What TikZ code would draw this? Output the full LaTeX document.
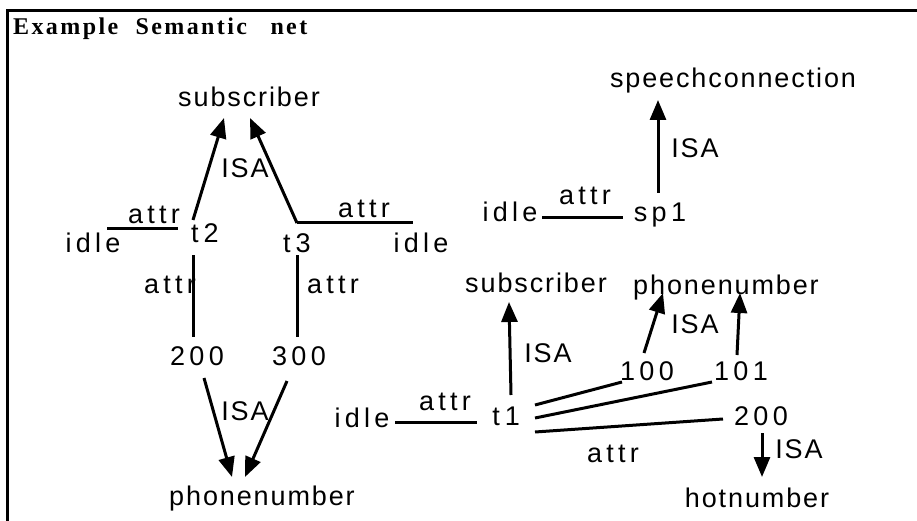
\documentclass[tikz,border=0pt]{standalone}
\usepackage{fontspec}
\setmainfont{Liberation Sans}
\newfontfamily\labfont[LetterSpace=7]{Liberation Sans}
\newfontfamily\labwide[LetterSpace=16]{Liberation Sans}
\newfontfamily\titlefont[LetterSpace=10]{Liberation Serif}
\usetikzlibrary{arrows.meta}
\begin{document}
\begin{tikzpicture}[x=1pt,y=-1pt,
  lab/.style={anchor=base,inner sep=0pt,font=\labfont\fontsize{27}{32}\selectfont},
  labw/.style={anchor=base,inner sep=0pt,font=\labwide\fontsize{27}{32}\selectfont},
  conn/.style={line width=3pt},
  isa/.style={line width=3pt,-{Triangle[length=20pt,width=16pt]}},
  frame/.style={line width=3pt}
]
\useasboundingbox (0,0) rectangle (917,521);
\fill[white] (0,0) rectangle (917,521);
\draw[frame] (7.5,521) -- (7.5,10.5) -- (917,10.5);

\node[font=\titlefont\bfseries\fontsize{24}{28}\selectfont, anchor=base west, inner sep=0pt] (title) at (13,35) {Example\hspace{9pt} Semantic\hspace{15pt} net};

% left group
\node[lab]  (subA)  at (249,107) {subscriber};
\node[lab]  (isaA)  at (245,178) {ISA};
\node[labw] (t2)    at (205,242) {t\kern5pt 2};
\node[labw] (t3)    at (297,252) {t\kern5pt 3};
\node[labw] (idleA) at (93,252)  {idle};
\node[labw] (attrA) at (154,223) {attr};
\node[labw] (attrB) at (364,218) {attr};
\node[labw] (idleB) at (421,252) {idle};
\node[labw] (attrC) at (170,293) {attr};
\node[labw] (attrD) at (333,293) {attr};
\node[labw] (n200a) at (197,365) {200};
\node[labw] (n300)  at (299,365) {300};
\node[lab]  (isaB)  at (245,420) {ISA};
\node[lab]  (phoneA) at (262,505) {phonenumber};

% right group
\node[lab]  (speech) at (733,88) {speechconnection};
\node[lab]  (isaF)  at (695,158) {ISA};
\node[labw] (sp1)   at (660,222) {sp1};
\node[labw] (idleD) at (510,222) {idle};
\node[labw] (attrG) at (585,205) {attr};

\node[lab]  (subB)  at (536,292) {subscriber};
\node[lab]  (phoneB) at (726,294) {phonenumber};
\node[lab]  (isaC)  at (548,362) {ISA};
\node[lab]  (isaD)  at (695,333) {ISA};
\node[labw] (n100)  at (647,380) {100};
\node[labw] (n101)  at (741,380) {101};
\node[labw] (idleC) at (362,427) {idle};
\node[labw] (attrE) at (445,410) {attr};
\node[labw] (t1)    at (506,425) {t\kern5pt 1};
\node[labw] (n200b) at (761,425) {200};
\node[labw] (attrF) at (613,462) {attr};
\node[lab]  (isaE)  at (799,458) {ISA};
\node[lab]  (hot)   at (757,507) {hotnumber};

% connectors left
\draw[conn] ([shift={(14,-23)}]idleA.base) -- ([shift={(-27,-13)}]t2.base);
\draw[isa]  ([shift={(-12,-22)}]t2.base) -- ([shift={(-25,11)}]subA.base);
\draw[isa]  ([shift={(0,-29)}]t3.base) -- ([shift={(1,11)}]subA.base);
\draw[conn] ([shift={(0,-29)}]t3.base) -- ([shift={(-8,-29)}]idleB.base);
\draw[conn] ([shift={(-12,13)}]t2.base) -- ([shift={(-4,-28)}]n200a.base);
\draw[conn] ([shift={(0,3)}]t3.base) -- ([shift={(-2,-28)}]n300.base);
\draw[isa]  ([shift={(7,13)}]n200a.base) -- ([shift={(-30,-28)}]phoneA.base);
\draw[isa]  ([shift={(-12,16)}]n300.base) -- ([shift={(-17,-28)}]phoneA.base);

% connectors right
\draw[isa]  ([shift={(-2,-29)}]sp1.base) -- ([shift={(-75,12)}]speech.base);
\draw[conn] ([shift={(32,-4)}]idleD.base) -- ([shift={(-37,-4)}]sp1.base);
\draw[conn] ([shift={(33,-5)}]idleC.base) -- ([shift={(-29,-3)}]t1.base);
\draw[isa]  ([shift={(5,-30)}]t1.base) -- ([shift={(-27,10)}]subB.base);
\draw[conn] ([shift={(29,-20)}]t1.base) -- ([shift={(-25,2)}]n100.base);
\draw[conn] ([shift={(29,-7)}]t1.base) -- ([shift={(-29,2)}]n101.base);
\draw[conn] ([shift={(29,7)}]t1.base) -- ([shift={(-38,-6)}]n200b.base);
\draw[isa]  ([shift={(-3,-27)}]n100.base) -- ([shift={(-63,-1)}]phoneB.base);
\draw[isa]  ([shift={(-4,-25)}]n101.base) -- ([shift={(14,-1)}]phoneB.base);
\draw[isa]  ([shift={(1,8)}]n200b.base) -- ([shift={(5,-30)}]hot.base);
\end{tikzpicture}
\end{document}
